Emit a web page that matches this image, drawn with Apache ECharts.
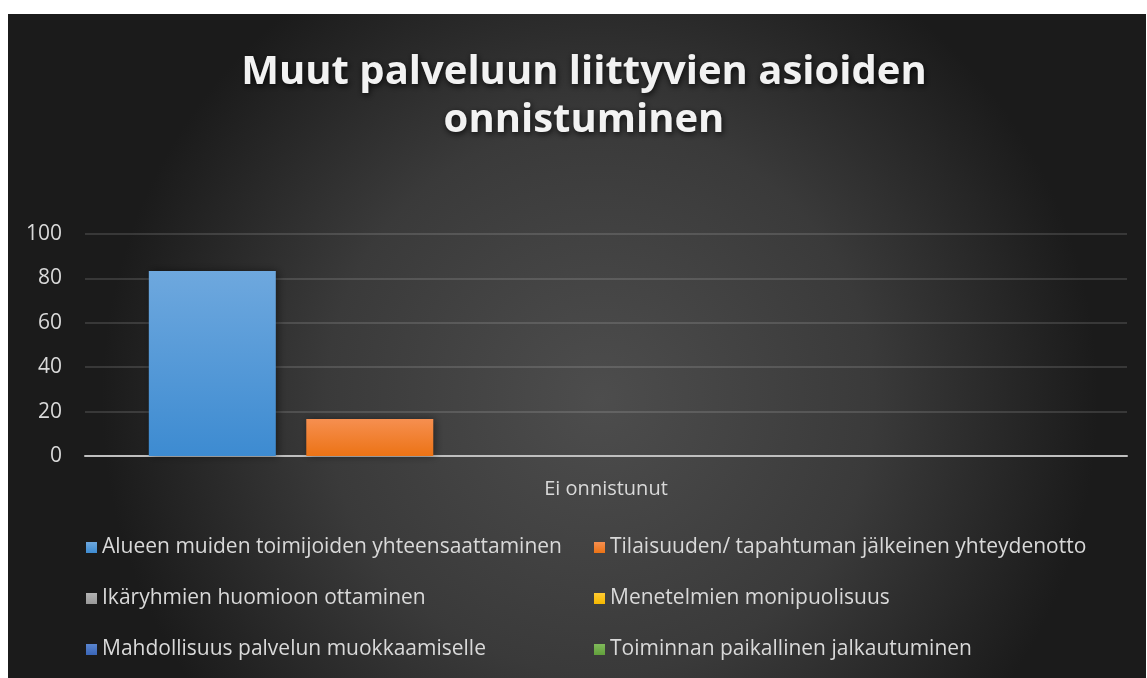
<!DOCTYPE html>
<html>
<head>
<meta charset="utf-8">
<script src="https://cdn.jsdelivr.net/npm/echarts@6/dist/echarts.min.js"></script>
<style>
html,body{margin:0;padding:0;background:#fff;width:1147px;height:678px;overflow:hidden;}
#chart{position:absolute;left:8px;top:14px;width:1138px;height:664px;}
</style>
</head>
<body>
<div id="chart"></div>
<script>
const titleText = 'Muut palveluun liittyvien asioiden\nonnistuminen';
const categories = ['Ei onnistunut'];
const seriesNames = [
  'Alueen muiden toimijoiden yhteensaattaminen',
  'Tilaisuuden/ tapahtuman jälkeinen yhteydenotto',
  'Ikäryhmien huomioon ottaminen',
  'Menetelmien monipuolisuus',
  'Mahdollisuus palvelun muokkaamiselle',
  'Toiminnan paikallinen jalkautuminen'
];
const values = [[83.3], [16.7], [0], [0], [0], [0]];
const yTicks = [0, 20, 40, 60, 80, 100];

const colorsTop = ['#6ea8de', '#f68f50', '#b3b3b3', '#ffcb33', '#5a85cf', '#80ba5a'];
const colorsBottom = ['#3d8bd1', '#ec7315', '#999999', '#f5b800', '#3a66b8', '#62a03c'];
const legendColors = ['#5B9BD5', '#ED7D31', '#A5A5A5', '#FFC000', '#4472C4', '#70AD47'];

const chart = echarts.init(document.getElementById('chart'), null, {renderer: 'canvas'});

const series = seriesNames.map((name, i) => ({
  name: name,
  type: 'bar',
  data: values[i],
  barWidth: 127,
  barGap: '24%',
  itemStyle: {
    color: new echarts.graphic.LinearGradient(0, 0, 0, 1, [
      {offset: 0, color: colorsTop[i]},
      {offset: 1, color: colorsBottom[i]}
    ]),
    shadowColor: 'rgba(0,0,0,0.45)',
    shadowBlur: 8,
    shadowOffsetX: 2,
    shadowOffsetY: 0
  },
  emphasis: {disabled: true}
}));

const legendText = {color: '#d9d9d9', fontSize: 21, fontFamily: 'Open Sans, sans-serif', lineHeight: 20};

chart.setOption({
  animation: false,
  backgroundColor: {
    type: 'radial', x: 0.52, y: 0.58, r: 0.75,
    colorStops: [
      {offset: 0, color: '#4d4d4d'},
      {offset: 0.55, color: '#3a3a3a'},
      {offset: 1, color: '#1b1b1b'}
    ]
  },
  color: legendColors,
  title: {
    text: titleText,
    left: 576,
    top: 35,
    padding: 0,
    textAlign: 'center',
    textStyle: {
      color: '#f2f2f2',
      fontSize: 40,
      fontWeight: 'bold',
      fontFamily: 'Open Sans, sans-serif',
      lineHeight: 48,
      textShadowColor: 'rgba(0,0,0,0.8)',
      textShadowBlur: 6,
      textShadowOffsetX: 1,
      textShadowOffsetY: 2
    }
  },
  grid: {left: 77, right: 19, top: 220, bottom: 222, containLabel: false},
  legend: [
    {
      data: [seriesNames[0], seriesNames[2], seriesNames[4]],
      orient: 'vertical', left: 78, top: 523, padding: 0,
      itemWidth: 11, itemHeight: 11, itemGap: 30, itemTextGap: 2,
      icon: 'rect', textStyle: legendText, selectedMode: false
    },
    {
      data: [seriesNames[1], seriesNames[3], seriesNames[5]],
      orient: 'vertical', left: 586, top: 523, padding: 0,
      itemWidth: 11, itemHeight: 11, itemGap: 30, itemTextGap: 2,
      icon: 'rect', textStyle: legendText, selectedMode: false
    }
  ],
  xAxis: {
    type: 'category',
    data: categories,
    axisLine: {show: true, lineStyle: {color: '#bfbfbf', width: 2}},
    axisTick: {show: false},
    axisLabel: {color: '#d9d9d9', fontSize: 20, fontFamily: 'Open Sans, sans-serif', margin: 23}
  },
  yAxis: {
    type: 'value',
    min: yTicks[0],
    max: yTicks[yTicks.length - 1],
    interval: yTicks[1] - yTicks[0],
    axisLine: {show: false},
    axisTick: {show: false},
    axisLabel: {color: '#d9d9d9', fontSize: 21, fontFamily: 'Open Sans, sans-serif', margin: 23},
    splitLine: {lineStyle: {color: 'rgba(255,255,255,0.13)', width: 2}}
  },
  series: series
});
</script>
</body>
</html>
